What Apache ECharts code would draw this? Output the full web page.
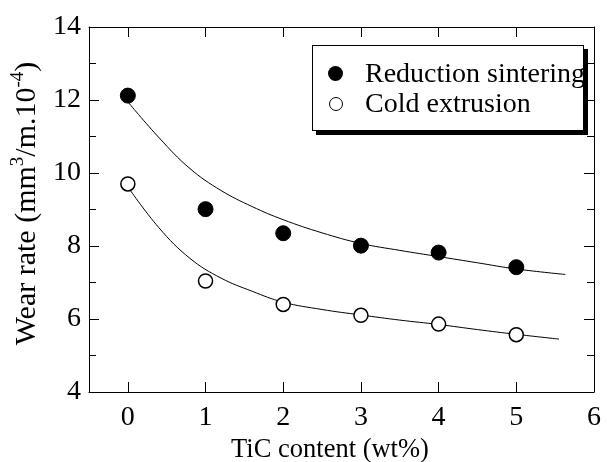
<!DOCTYPE html>
<html>
<head>
<meta charset="utf-8">
<script src="https://cdn.jsdelivr.net/npm/echarts@6/dist/echarts.min.js"></script>
<style>
    html, body { margin: 0; padding: 0; background: #fff; }
    #wrap { position: relative; width: 607px; height: 462px; }
    #chart { width: 607px; height: 462px; }
    /* 图例 */
    #legend { position: absolute; left: 312px; top: 45px; width: 272px; height: 86px; box-sizing: border-box;
        background: #fff; border: 1px solid #000; box-shadow: 4px 4px 0 #000; z-index: 10; }
    .dot { position: absolute; box-sizing: border-box; border-radius: 50%; }
    .lab { position: absolute; left: 52px; font: 28px "Liberation Serif"; line-height: 28px; color: #000; white-space: nowrap; }
</style>
</head>
<body>
<div id="wrap">
    <div id="chart"></div>
    <div id="legend"></div>
</div>
<script>
// 测量点 (TiC content, wear rate)
var tic = [0, 1, 2, 3, 4, 5];
var reductionSintering = [12.12, 9.01, 8.35, 8.01, 7.82, 7.42];
var coldExtrusion = [9.70, 7.04, 6.40, 6.10, 5.86, 5.57];

// 拟合曲线
var fitXUpper = [0, 0.4, 0.8, 1.2, 1.6, 2.0, 2.5, 3.0, 3.5, 4.0, 4.5, 5.0, 5.63];
var fitUpper = [11.95, 10.97, 10.12, 9.52, 9.08, 8.72, 8.36, 8.07, 7.88, 7.71, 7.54, 7.37, 7.22];
var fitXLower = [0, 0.4, 0.8, 1.2, 1.6, 2.0, 2.5, 3.0, 3.5, 4.0, 4.5, 5.0, 5.55];
var fitLower = [9.62, 8.50, 7.66, 7.12, 6.76, 6.46, 6.26, 6.11, 5.97, 5.85, 5.71, 5.58, 5.45];

// 图例文字
var legendNames = ['Reduction sintering', 'Cold extrusion'];

// 坐标轴范围
var xRange = [-0.5, 6];
var yRange = [4, 14];

function pairs(xs, ys) {
    var out = [];
    for (var i = 0; i < xs.length; i++) {
        out.push([xs[i], ys[i]]);
    }
    return out;
}

var font = 'Liberation Serif';
var black = '#000';

//x轴 (上下两条)
function xAxisOf(pos, withLabel) {
    return {
        type: 'value',
        min: xRange[0],
        max: xRange[1],
        minInterval: 1,
        maxInterval: 1,
        position: pos,
        axisLine: {show: true, onZero: false, lineStyle: {color: black, width: 1}},
        axisTick: {show: true, inside: true, length: 10, lineStyle: {color: black}},
        axisLabel: withLabel ? {
            show: true,
            showMinLabel: false,
            margin: 12,
            fontFamily: font,
            fontSize: 28,
            color: black
        } : {show: false},
        splitLine: {show: false}
    };
}

//y轴 (左右两条)
function yAxisOf(pos, withLabel) {
    return {
        type: 'value',
        min: yRange[0],
        max: yRange[1],
        interval: 2,
        position: pos,
        axisLine: {show: true, onZero: false, lineStyle: {color: black, width: 1}},
        axisTick: {show: true, inside: true, length: 10, lineStyle: {color: black}},
        minorTick: {show: true, splitNumber: 2, length: 7, lineStyle: {color: black}},
        axisLabel: withLabel ? {
            margin: 8,
            fontFamily: font,
            fontSize: 28,
            color: black
        } : {show: false},
        splitLine: {show: false},
        minorSplitLine: {show: false}
    };
}

var xBottom = xAxisOf('bottom', true);
xBottom.name = 'TiC content (wt%)';
xBottom.nameLocation = 'middle';
xBottom.nameGap = 44;
xBottom.nameTextStyle = {
    fontFamily: font,
    fontSize: 26.5,
    color: black,
    padding: [0, 23, 0, 0]
};

var yLeft = yAxisOf('left', true);
yLeft.name = '{t|Wear rate (mm}{s|3}{t|/m.10}{s|-4}{t|)}';
yLeft.nameLocation = 'middle';
yLeft.nameRotate = 90;
yLeft.nameGap = 36;
yLeft.nameTextStyle = {
    padding: [0, 0, 0, 12],
    rich: {
        t: {fontFamily: font, fontSize: 30, color: black, lineHeight: 34, verticalAlign: 'bottom'},
        s: {fontFamily: font, fontSize: 19, color: black, lineHeight: 34, verticalAlign: 'top'}
    }
};

var option = {
    animation: false,
    backgroundColor: '#fff',
    grid: {
        left: 89,
        right: 13,
        top: 27,
        bottom: 70,
        outerBoundsMode: 'none',
        containLabel: false
    },
    xAxis: [xBottom, xAxisOf('top', false)],
    yAxis: [yLeft, yAxisOf('right', false)],
    series: [
        {
            name: 'fitUpper',
            type: 'line',
            smooth: 0.4,
            showSymbol: false,
            symbol: 'none',
            silent: true,
            lineStyle: {color: black, width: 1},
            data: pairs(fitXUpper, fitUpper),
            z: 2
        },
        {
            name: 'fitLower',
            type: 'line',
            smooth: 0.4,
            showSymbol: false,
            symbol: 'none',
            silent: true,
            lineStyle: {color: black, width: 1},
            data: pairs(fitXLower, fitLower),
            z: 2
        },
        {
            name: legendNames[0],
            type: 'scatter',
            symbol: 'circle',
            symbolSize: 15,
            itemStyle: {color: black, borderColor: black, borderWidth: 1, opacity: 1},
            data: pairs(tic, reductionSintering),
            z: 3
        },
        {
            name: legendNames[1],
            type: 'scatter',
            symbol: 'circle',
            symbolSize: 14,
            itemStyle: {color: '#fff', borderColor: black, borderWidth: 1.5, opacity: 1},
            data: pairs(tic, coldExtrusion),
            z: 3
        }
    ]
};

var myChart = echarts.init(document.getElementById('chart'));
myChart.setOption(option);

//图例: 两行, 圆点 + 文字
var legendBox = document.getElementById('legend');
var dotStyles = [
    'left:15px;top:20px;width:15px;height:15px;background:#000;',
    'left:16px;top:51px;width:14px;height:14px;background:#fff;border:1.5px solid #000;'
];
for (var i = 0; i < legendNames.length; i++) {
    var dot = document.createElement('div');
    dot.className = 'dot';
    dot.style.cssText = dotStyles[i];
    legendBox.appendChild(dot);

    var lab = document.createElement('span');
    lab.className = 'lab';
    lab.style.top = (13 + i * 30) + 'px';
    lab.textContent = legendNames[i];
    legendBox.appendChild(lab);
}
</script>
</body>
</html>
